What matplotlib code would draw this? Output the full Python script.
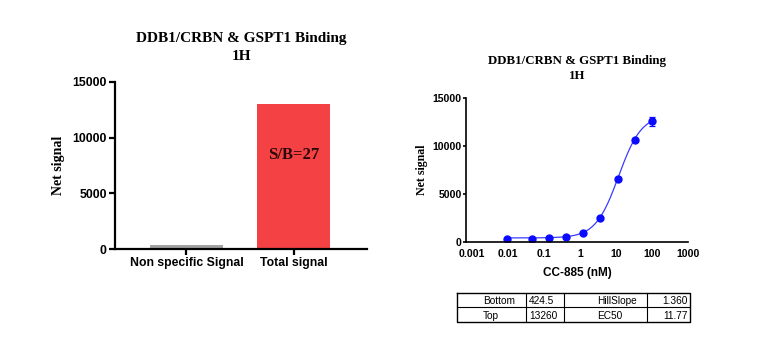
import numpy as np
import matplotlib.pyplot as plt

# bar panel
categories = ["Non specific Signal", "Total signal"]
net_signal = [400, 13000]
bar_colors = ["#a3a3a3", "#f44244"]
sb_ratio = 27

# dose-response panel (CC-885, nM)
conc = [0.0091, 0.0457, 0.137, 0.412, 1.23, 3.70, 11.1, 33.3, 100]
signal = [350, 360, 390, 480, 905, 2470, 6610, 10620, 12570]
signal_err = [60, 50, 50, 60, 70, 90, 120, 150, 480]

# 4PL fit parameters
fit_names = [["Bottom", "HillSlope"], ["Top", "EC50"]]
fit_values = [[424.5, 1.360], [13260, 11.77]]
fit_fmt = [["{:.1f}", "{:.3f}"], ["{:.0f}", "{:.2f}"]]

serif = ["Liberation Serif", "DejaVu Serif"]
sans = ["Liberation Sans", "DejaVu Sans"]
title = "DDB1/CRBN & GSPT1 Binding\n1H"

W, H = 768, 346
fig = plt.figure(figsize=(W / 100, H / 100), dpi=100)


def box(l, t, r, b):
    return [l / W, 1 - b / H, (r - l) / W, (b - t) / H]


# ---- left: bars ----
ax1 = fig.add_axes(box(115, 82, 367, 249))
x = np.arange(len(categories))
ax1.bar(x, net_signal, width=0.68, color=bar_colors)
ax1.text(1, 8400, f"S/B={sb_ratio}", ha="center", va="center",
         family=serif, weight="bold", fontsize=12, color="#2a0808")
ax1.set_xlim(-0.665, 1.68)
ax1.set_ylim(0, 15000)
ax1.set_yticks([0, 5000, 10000, 15000])
ax1.set_xticks(x)
ax1.set_xticklabels(categories)
ax1.set_ylabel("Net signal", family=serif, weight="bold", fontsize=10, labelpad=5)
ax1.set_title(title, family=serif, weight="bold", fontsize=11,
              linespacing=1.45, pad=16)
for lab in ax1.get_xticklabels() + ax1.get_yticklabels():
    lab.set_family(sans)
    lab.set_weight("bold")
    lab.set_fontsize(8.8)
ax1.tick_params(width=1.6, length=4, pad=2)
for s in ["top", "right"]:
    ax1.spines[s].set_visible(False)
for s in ["left", "bottom"]:
    ax1.spines[s].set_linewidth(1.6)

# ---- right: dose-response ----
ax2 = fig.add_axes(box(466, 98, 688, 242))
xx = np.logspace(np.log10(conc[0]), np.log10(conc[-1]), 300)
bottom, top = fit_values[0][0], fit_values[1][0]
hill, ec50 = fit_values[0][1], fit_values[1][1]
yy = bottom + (top - bottom) / (1 + (ec50 / xx) ** hill)
ax2.plot(xx, yy, color="#3b3bff", lw=0.9)
ax2.errorbar(conc, signal, yerr=signal_err, fmt="o", color="#0a0aff",
             ms=5, elinewidth=0.9, capsize=2.5, capthick=0.9)
ax2.set_xscale("log")
ax2.set_xlim(0.00068, 1000)
ax2.set_ylim(0, 15000)
ax2.set_xticks([0.001, 0.01, 0.1, 1, 10, 100, 1000])
ax2.set_xticklabels(["0.001", "0.01", "0.1", "1", "10", "100", "1000"])
ax2.minorticks_off()
ax2.set_yticks([0, 5000, 10000, 15000])
ax2.tick_params(axis="x", length=0, pad=5)
ax2.tick_params(axis="y", length=2, width=1.2, pad=1)
ax2.set_xlabel("CC-885 (nM)", family=sans, weight="bold", fontsize=8.5, labelpad=6)
ax2.set_ylabel("Net signal", family=serif, weight="bold", fontsize=8.6, labelpad=3)
ax2.set_title(title, family=serif, weight="bold", fontsize=9.3,
              linespacing=1.3, pad=14)
for lab in ax2.get_xticklabels() + ax2.get_yticklabels():
    lab.set_family(sans)
    lab.set_weight("bold")
    lab.set_fontsize(7.6)
for s in ["top", "right"]:
    ax2.spines[s].set_visible(False)
for s in ["left", "bottom"]:
    ax2.spines[s].set_linewidth(1.2)

# ---- fit parameter table ----
tab = fig.add_axes([0, 0, 1, 1])
tab.set_xlim(0, W)
tab.set_ylim(H, 0)
tab.axis("off")
tl, tr, tt, tb = 457, 690, 293, 322
cols = [tl, 526, 564, 647, tr]
rows = [tt, 307, tb]
tab.plot([tl, tr, tr, tl, tl], [tt, tt, tb, tb, tt], color="black", lw=1.0)
tab.plot([tl, tr], [rows[1], rows[1]], color="black", lw=0.8)
for c in cols[1:-1]:
    tab.plot([c, c], [tt, tb], color="black", lw=0.8)
for i in range(2):
    yc = (rows[i] + rows[i + 1]) / 2 + 0.5
    for j in range(2):
        name = fit_names[i][j]
        val = fit_fmt[i][j].format(fit_values[i][j])
        kw = dict(va="center_baseline", family=sans, fontsize=7.3)
        if j == 0:
            tab.text(483, yc, name, ha="left", **kw)
            tab.text(529, yc, val, ha="left", **kw)
        else:
            tab.text(597, yc, name, ha="left", **kw)
            tab.text(688, yc, val, ha="right", **kw)

fig.savefig("out.png", dpi=100)
